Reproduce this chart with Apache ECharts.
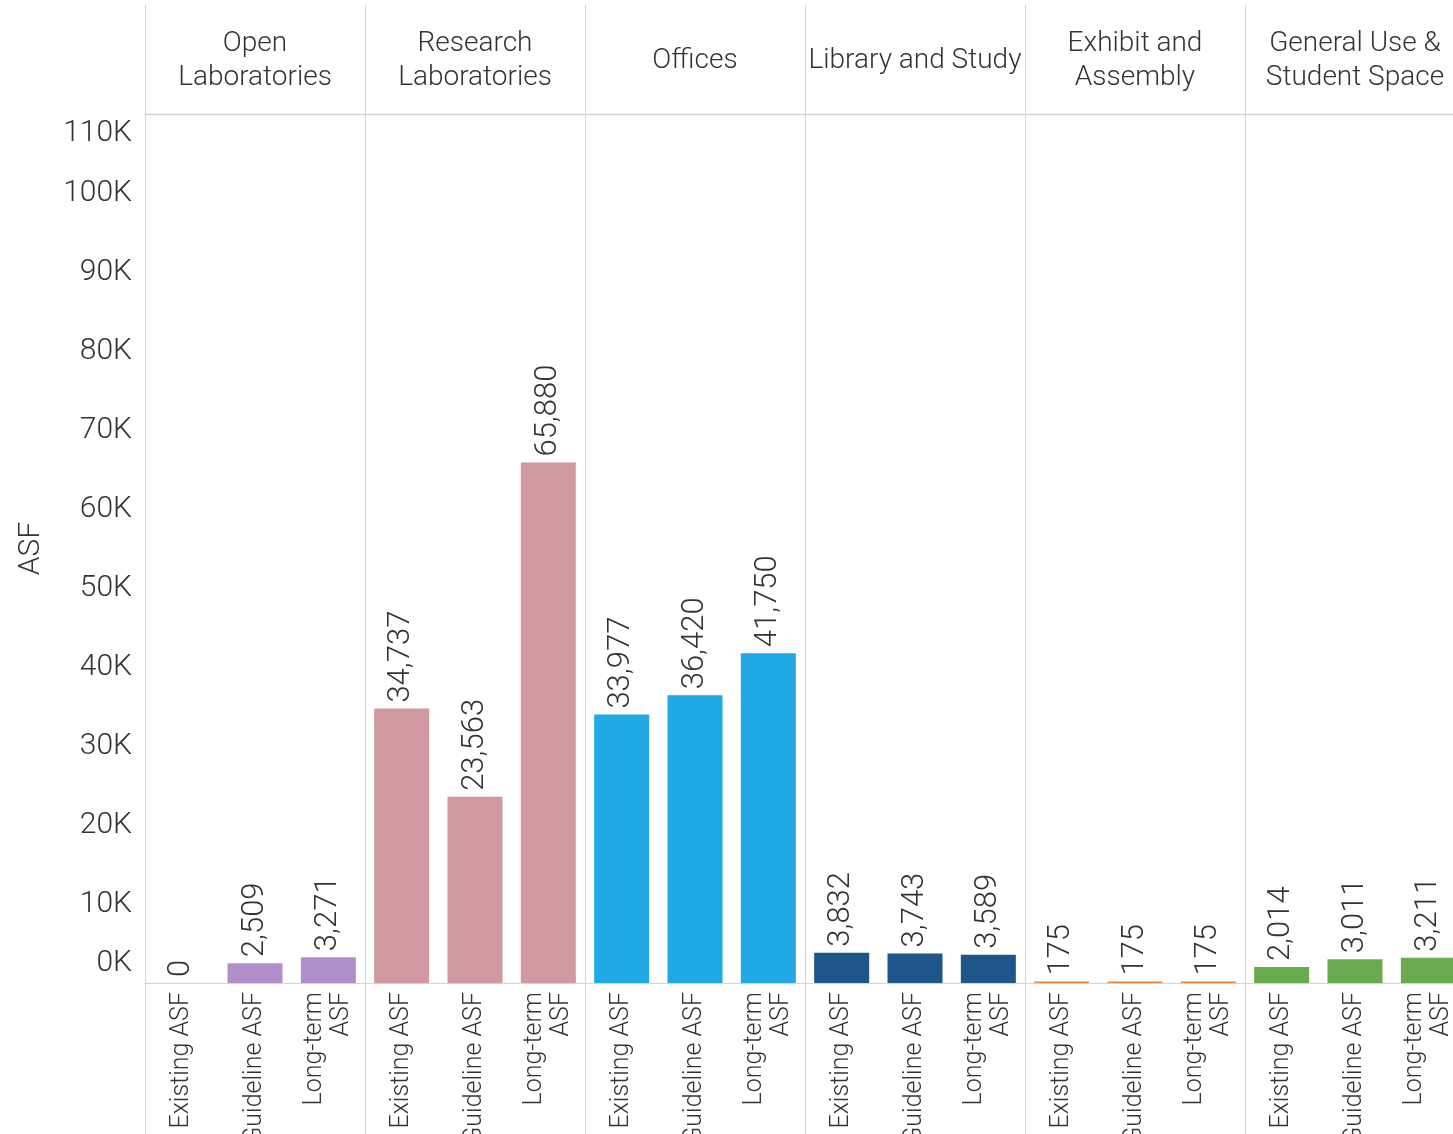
<!DOCTYPE html>
<html>
<head>
<meta charset="utf-8">
<title>ASF by Space Category</title>
<script src="https://cdn.jsdelivr.net/npm/echarts@6/dist/echarts.min.js"></script>
<style>
  html, body { margin: 0; padding: 0; background: #ffffff; }
  #chart { width: 1453px; height: 1134px; }
</style>
</head>
<body>
<div id="chart"></div>
<script>
// Space categories (column facets) and their header text
const facetNames = ['Open Laboratories', 'Research Laboratories', 'Offices',
                    'Library and Study', 'Exhibit and Assembly', 'General Use & Student Space'];
const facetHeaders = ['Open\nLaboratories', 'Research\nLaboratories', 'Offices',
                      'Library and Study', 'Exhibit and\nAssembly', 'General Use &\nStudent Space'];
// Measures shown inside every facet
const measures = ['Existing ASF', 'Guideline ASF', 'Long-term ASF'];

// Assignable square feet per facet: existing, guideline, long-term
const openLabs      = [0, 2509, 3271];
const researchLabs  = [34737, 23563, 65880];
const offices       = [33977, 36420, 41750];
const libraryStudy  = [3832, 3743, 3589];
const exhibitAssem  = [175, 175, 175];
const generalUse    = [2014, 3011, 3211];
const facetValues = [openLabs, researchLabs, offices, libraryStudy, exhibitAssem, generalUse];

const facetColors = ['#b18fcb', '#d0989f', '#20a9e5', '#1f5689', '#e8863a', '#6aaa50'];

// Value axis ticks
const yMin = 0, yMax = 110000, yStep = 10000;

const FONT = 'Roboto, "Noto Sans", sans-serif';
const TXT = '#333333';
const LINE = '#d9d2d2';

// Layout of the facet panels (the last panel runs past the right edge)
const plotLeft = 145, panelW = 220, plotTop = 114, plotBottomY = 983;
const plotH = plotBottomY - plotTop;
const canvasW = 1453;

const chart = echarts.init(document.getElementById('chart'), null, { renderer: 'canvas' });

const grids = [], xAxes = [], yAxes = [], series = [], graphics = [];

facetNames.forEach((name, i) => {
  const left = plotLeft + i * panelW;
  grids.push({
    left: left, top: plotTop, width: panelW, height: plotH,
    containLabel: false, outerBoundsMode: 'none'
  });
  xAxes.push({
    type: 'category', gridIndex: i, data: measures,
    axisTick: { show: false },
    axisLine: { show: true, lineStyle: { color: LINE, width: 1 } },
    axisLabel: {
      rotate: 90, margin: 9, interval: 0,
      fontFamily: FONT, fontWeight: 300, fontSize: 25, color: TXT, lineHeight: 27,
      formatter: v => v.replace('Long-term ', 'Long-term\n')
    }
  });
  yAxes.push({
    type: 'value', gridIndex: i, min: yMin, max: yMax, interval: yStep,
    splitLine: { show: false }, axisTick: { show: false },
    axisLine: { show: false },
    name: i === 0 ? 'ASF' : '',
    nameLocation: 'middle', nameGap: 99, nameRotate: 90,
    nameTextStyle: { fontFamily: FONT, fontWeight: 300, fontSize: 30, color: TXT },
    axisLabel: {
      show: i === 0, margin: 13,
      fontFamily: FONT, fontWeight: 300, fontSize: 30, color: TXT,
      formatter: v => {
        const t = (v / 1000) + 'K';
        if (v === yMin) return '{lo|' + t + '}';
        if (v === yMax) return '{hi|' + t + '}';
        return t;
      },
      rich: {
        lo: { fontFamily: FONT, fontWeight: 300, fontSize: 30, color: TXT, padding: [0, 0, 40, 0] },
        hi: { fontFamily: FONT, fontWeight: 300, fontSize: 30, color: TXT, padding: [38, 0, 0, 0] }
      }
    }
  });
  series.push({
    type: 'bar', name: name, xAxisIndex: i, yAxisIndex: i,
    data: facetValues[i], barCategoryGap: '25%',
    itemStyle: { color: facetColors[i] },
    label: {
      show: true, position: 'top', rotate: 90, align: 'left', verticalAlign: 'middle',
      distance: 6, fontFamily: FONT, fontWeight: 300, fontSize: 31, color: TXT,
      formatter: p => echarts.format.addCommas(p.value)
    }
  });
  // facet header
  graphics.push({
    type: 'text', x: left + panelW / 2, y: 61,
    style: {
      text: facetHeaders[i], align: 'center', verticalAlign: 'middle',
      fontFamily: FONT, fontWeight: 300, fontSize: 28, lineHeight: 34, fill: TXT
    }
  });
});

// panel separators and header underline
for (let i = 0; i < facetNames.length; i++) {
  const x = plotLeft + i * panelW + 0.5;
  graphics.push({ type: 'line', shape: { x1: x, y1: 5, x2: x, y2: 1134 }, style: { stroke: LINE, lineWidth: 1 } });
}
graphics.push({ type: 'line', shape: { x1: plotLeft, y1: plotTop + 0.5, x2: canvasW, y2: plotTop + 0.5 }, style: { stroke: LINE, lineWidth: 1.5 } });

chart.setOption({
  backgroundColor: '#ffffff',
  animation: false,
  grid: grids,
  xAxis: xAxes,
  yAxis: yAxes,
  series: series,
  graphic: graphics
});
</script>
</body>
</html>
